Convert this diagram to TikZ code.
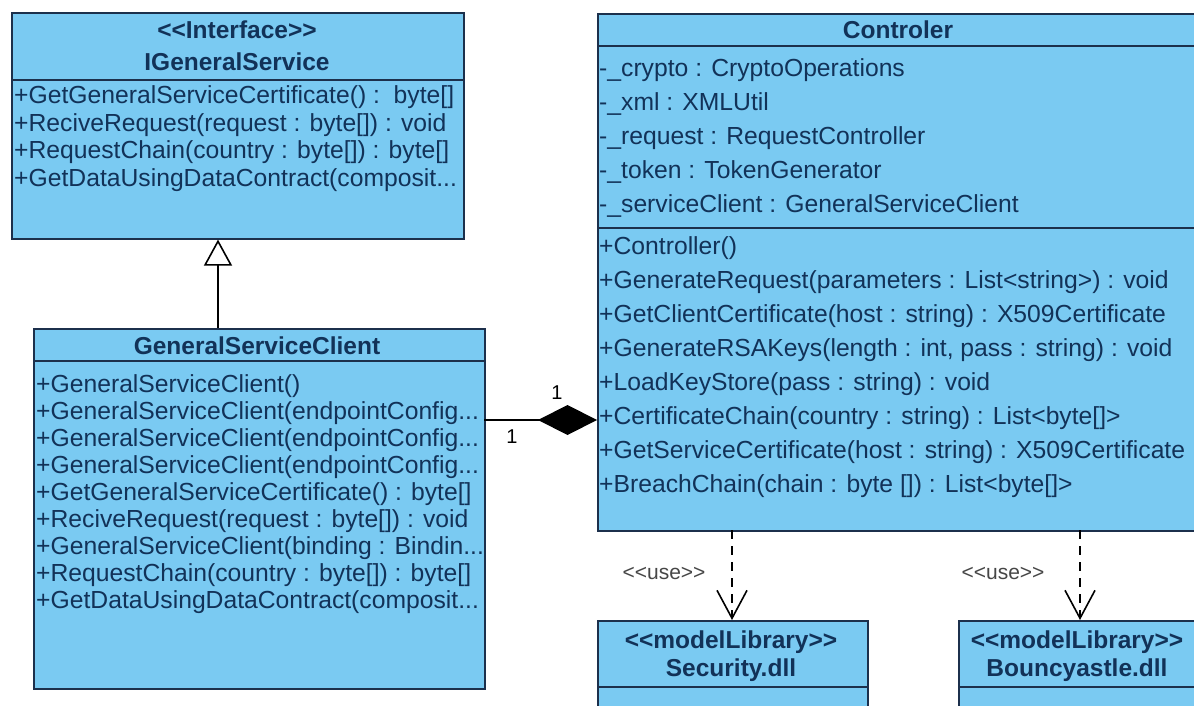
\documentclass[tikz,border=0pt]{standalone}
\usepackage{fontspec}
\setmainfont{Liberation Sans}
\usetikzlibrary{arrows.meta}
\usetikzlibrary{positioning}
\definecolor{boxblue}{RGB}{122,202,242}
\definecolor{boxline}{RGB}{28,48,76}
\definecolor{boxtext}{RGB}{18,50,88}
\definecolor{usegray}{RGB}{70,70,70}
\newcommand{\trunc}{...}
\newcommand{\stype}[1]{\textless\kern0pt\textless#1\textgreater\kern0pt\textgreater}
\tikzset{
  classbox/.style={draw=boxline, fill=boxblue, line width=1.6pt, inner sep=0pt, anchor=north west},
  divider/.style={draw=boxline, line width=1.6pt},
  member/.style={anchor=west, inner sep=0pt, text=boxtext, font=\fontsize{24.7}{24.7}\selectfont},
  classname/.style={inner sep=0pt, text=boxtext, font=\bfseries\fontsize{24.5}{24.5}\selectfont},
  inherit/.style={line width=1.6pt, -{Triangle[open, length=26pt, width=28pt, line width=1.6pt]}},
  compose/.style={line width=1.6pt, -{Diamond[length=59pt, width=30pt]}},
  uses/.style={line width=1.6pt, dash pattern=on 9pt off 7pt, -{Straight Barb[length=28pt, width=30pt, line width=1.6pt]}},
  stereo/.style={inner sep=0pt, text=usegray, font=\fontsize{21}{21}\selectfont},
  mult/.style={inner sep=0pt, font=\fontsize{20}{20}\selectfont}
}
\begin{document}
\begin{tikzpicture}[x=1pt, y=-1pt]
  \useasboundingbox (0,0) rectangle (1194,706);
  \clip (0,0) rectangle (1194,706);

  % interface
  \node[classbox, minimum width=452pt, minimum height=226pt] (igs) at (11,12) {};
  \node[classname] (igsstereo) at (237,30) {\stype{Interface}};
  \node[classname] (igsname) at (237,62) {IGeneralService};
  \draw[divider] (igs.west |- 0,80) -- (igs.east |- 0,80);
  \foreach \txt [count=\i] in {{+GetGeneralServiceCertificate() :\ \ byte[]},
      {+ReciveRequest(request : byte[]) : void},
      {+RequestChain(country : byte[]) : byte[]},
      {+GetDataUsingDataContract(composit\trunc}}
    \node[member] (igsop\i) at (14,{70+27.5*\i}) {\txt};

  % client
  \node[classbox, minimum width=451pt, minimum height=360pt] (gsc) at (33,328) {};
  \node[classname] (gscname) at (257,346) {GeneralServiceClient};
  \draw[divider] (gsc.west |- 0,361) -- (gsc.east |- 0,361);
  \foreach \txt [count=\i] in {{+GeneralServiceClient()},
      {+GeneralServiceClient(endpointConfig\trunc},
      {+GeneralServiceClient(endpointConfig\trunc},
      {+GeneralServiceClient(endpointConfig\trunc},
      {+GetGeneralServiceCertificate() : byte[]},
      {+ReciveRequest(request : byte[]) : void},
      {+GeneralServiceClient(binding : Bindin\trunc},
      {+RequestChain(country : byte[]) : byte[]},
      {+GetDataUsingDataContract(composit\trunc}}
    \node[member] (gscop\i) at (36,{359+27*\i}) {\txt};

  % controller
  \node[classbox, minimum width=599pt, minimum height=517pt] (ctl) at (597,13) {};
  \node[classname] (ctlname) at (898,30) {Controler};
  \draw[divider] (ctl.west |- 0,46) -- (ctl.east |- 0,46);
  \foreach \txt [count=\i] in {{-\_crypto : CryptoOperations},
      {-\_xml : XMLUtil},
      {-\_request : RequestController},
      {-\_token : TokenGenerator},
      {-\_serviceClient : GeneralServiceClient}}
    \node[member] (ctlatt\i) at (599,{36+34*\i}) {\txt};
  \draw[divider] (ctl.west |- 0,228) -- (ctl.east |- 0,228);
  \foreach \txt [count=\i] in {{+Controller()},
      {+GenerateRequest(parameters : List\textless string\textgreater) : void},
      {+GetClientCertificate(host : string) : X509Certificate},
      {+GenerateRSAKeys(length : int, pass : string) : void},
      {+LoadKeyStore(pass : string) : void},
      {+CertificateChain(country : string) : List\textless byte[]\textgreater},
      {+GetServiceCertificate(host : string) : X509Certificate},
      {+BreachChain(chain : byte []) : List\textless byte[]\textgreater}}
    \node[member] (ctlop\i) at (599,{214+34*\i}) {\txt};

  % libraries
  \node[classbox, minimum width=270pt, minimum height=110pt] (sec) at (597,620) {};
  \node[classname] (secstereo) at (731,642) {\stype{modelLibrary}};
  \node[classname] (secname) at (731,670) {Security.dll};
  \draw[divider] (sec.west |- 0,687) -- (sec.east |- 0,687);

  \node[classbox, minimum width=244pt, minimum height=110pt] (bcl) at (958,620) {};
  \node[classname] (bclstereo) at (1077,642) {\stype{modelLibrary}};
  \node[classname] (bclname) at (1077,670) {Bouncyastle.dll};
  \draw[divider] (bcl.west |- 0,687) -- (bcl.east |- 0,687);

  % connectors
  \coordinate (genfoot) at (218,328);
  \draw[inherit] (genfoot) -- (genfoot |- igs.south);
  \coordinate (compfoot) at (484,420);
  \draw[compose] (compfoot) -- (compfoot -| ctl.west);
  \node[mult] (multctl) at (557,393) {1};
  \node[mult] (multgsc) at (512,437) {1};
  \coordinate (secuse) at (732,530);
  \coordinate (bcluse) at (1080,530);
  \draw[uses] (secuse) -- (secuse |- sec.north);
  \draw[uses] (bcluse) -- (bcluse |- bcl.north);
  \node[stereo] (secuselabel) at (664,573) {\stype{use}};
  \node[stereo] (bcluselabel) at (1003,573) {\stype{use}};
\end{tikzpicture}
\end{document}
